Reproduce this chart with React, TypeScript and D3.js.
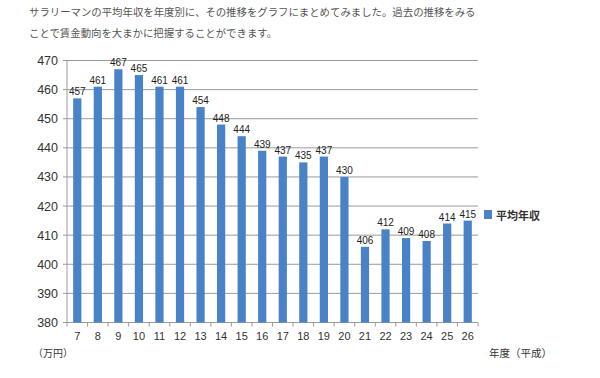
import React from "react";
import * as d3 from "d3";

const categories = ["7","8","9","10","11","12","13","14","15","16","17","18","19","20","21","22","23","24","25","26"];
const values = [457,461,467,465,461,461,454,448,444,439,437,435,437,430,406,412,409,408,414,415];
const yTicks = [380,390,400,410,420,430,440,450,460,470];
const seriesName = "平均年収";
const introLines = [
  "サラリーマンの平均年収を年度別に、その推移をグラフにまとめてみました。過去の推移をみる",
  "ことで賃金動向を大まかに把握することができます。",
];

export default function App() {
  const W = 600, H = 378;
  const left = 67, right = 478, top = 60.5, bottom = 322.5;
  const x = d3.scaleBand().domain(categories).range([left, right]).paddingInner(0.6).paddingOuter(0.3);
  const band = d3.scaleBand().domain(categories).range([left, right]);
  const y = d3.scaleLinear().domain([380, 470]).range([bottom, top]);
  const blue = "#4a82c8";
  const font = "'Liberation Sans', Arial, sans-serif";
  const jp = "'Noto Sans CJK JP', sans-serif";
  return (
    <svg width={W} height={H} style={{ position: "absolute", left: 0, top: 0, background: "#fff" }}>
      <rect width={W} height={H} fill="#fff" />
      {introLines.map((t, i) => (
        <text key={i} x={29} y={16 + i * 21} fontFamily={jp} fontSize={10.4} fill="#555">{t}</text>
      ))}
      {yTicks.map((t) => (
        <g key={t}>
          <line x1={left} x2={right} y1={y(t)} y2={y(t)} stroke="#9a9a9a" strokeWidth={1} />
          <line x1={left - 4} x2={left} y1={y(t)} y2={y(t)} stroke="#9a9a9a" strokeWidth={1} />
          <text x={58} y={y(t) + 4.5} textAnchor="end" fontFamily={font} fontSize={12.5} fill="#333">{t}</text>
        </g>
      ))}
      <line x1={left} x2={left} y1={top} y2={bottom} stroke="#9a9a9a" />
      {categories.map((c, i) => (
        <line key={"t" + c} x1={band(c)!} x2={band(c)!} y1={bottom} y2={bottom + 4} stroke="#9a9a9a" />
      ))}
      <line x1={right} x2={right} y1={bottom} y2={bottom + 4} stroke="#9a9a9a" />
      {categories.map((c, i) => (
        <g key={c}>
          <rect x={x(c)!} y={y(values[i])} width={x.bandwidth()} height={bottom - y(values[i])} fill={blue} />
          <text x={x(c)! + x.bandwidth() / 2} y={y(values[i]) - 3} textAnchor="middle" fontFamily={font} fontSize={10} fill="#222">{values[i]}</text>
          <text x={band(c)! + band.bandwidth() / 2} y={340} textAnchor="middle" fontFamily={font} fontSize={11} fill="#333">{c}</text>
        </g>
      ))}
      <rect x={484} y={210} width={8} height={9} fill={blue} />
      <text x={496} y={219.5} fontFamily={jp} fontSize={11} fontWeight="bold" fill="#333">{seriesName}</text>
      <text x={33} y={357} fontFamily={jp} fontSize={10} fill="#333">（万円）</text>
      <text x={489} y={357} fontFamily={jp} fontSize={10.5} fill="#333">年度（平成）</text>
    </svg>
  );
}
